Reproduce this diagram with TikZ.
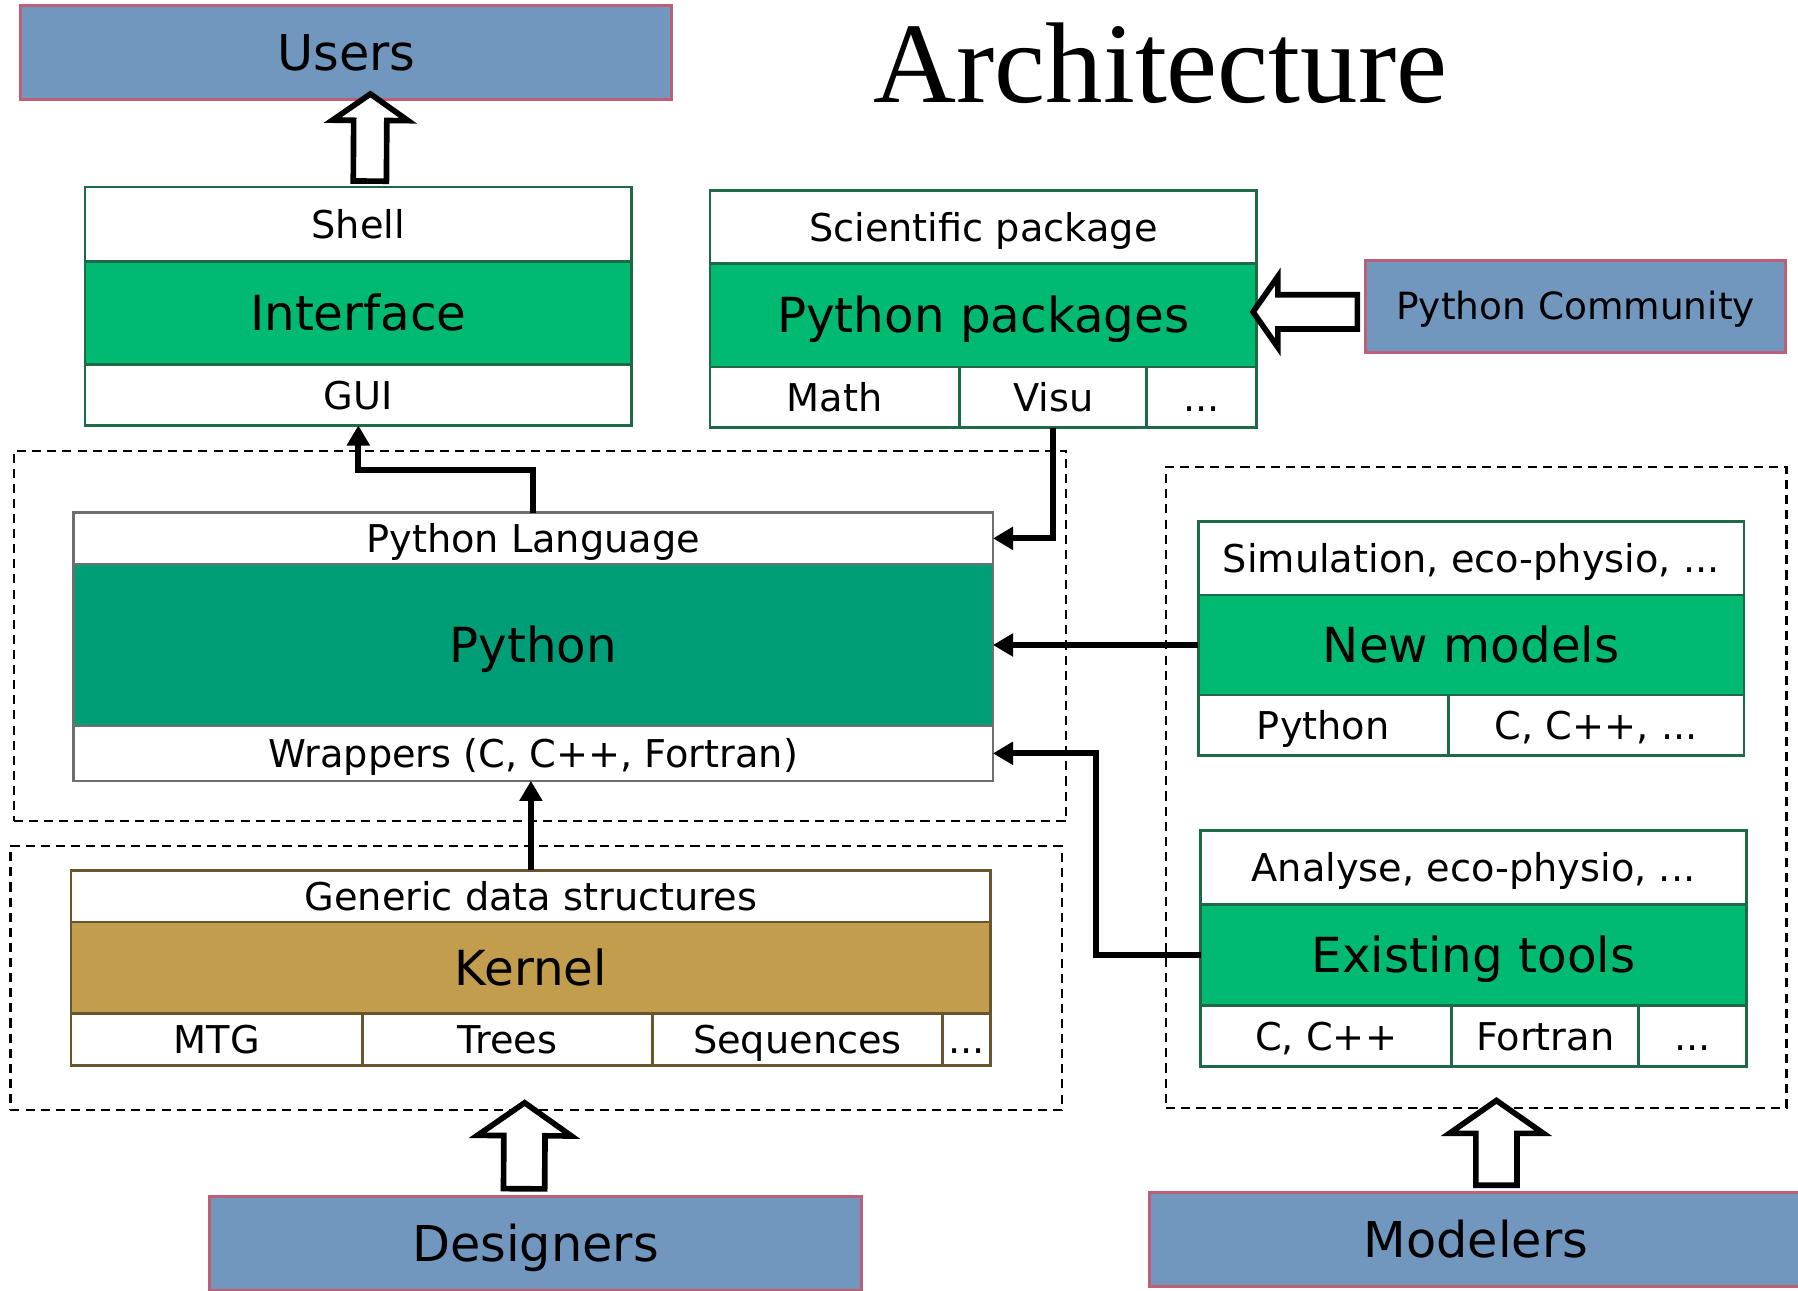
\documentclass[tikz,border=0pt]{standalone}
\usepackage{fontspec}
\setmainfont{DejaVu Sans}
\newfontfamily\titlefont{Liberation Serif}
\usetikzlibrary{positioning,calc,shapes.arrows,arrows.meta}

\definecolor{actorblue}{RGB}{113,151,190}
\definecolor{actorrim}{RGB}{190,95,120}
\definecolor{modgreen}{RGB}{0,186,114}
\definecolor{pygreen}{RGB}{0,158,118}
\definecolor{kernelgold}{RGB}{195,157,78}
\definecolor{greenrim}{RGB}{30,105,70}
\definecolor{grayrim}{RGB}{110,110,110}
\definecolor{brownrim}{RGB}{105,85,45}

\newcommand\bigtxt{\fontsize{24}{28}\selectfont}
\newcommand\midtxt{\fontsize{19}{23}\selectfont}

\tikzset{
  actor/.style={draw=actorrim, fill=actorblue, line width=1.5pt, inner sep=0pt, outer sep=0pt,
    minimum width=11.36cm, minimum height=1.64cm, font=\fontsize{24.5}{28}\selectfont,
    text height=17.9pt, text depth=0pt},
  cap/.style={draw=#1, fill=white, line width=1.3pt, inner sep=0pt, outer sep=0pt, font=\midtxt,
    text height=13.9pt, text depth=0pt},
  core/.style={draw=#1, line width=1.3pt, inner sep=0pt, outer sep=0pt, font=\bigtxt,
    text height=17.5pt, text depth=0pt},
  group/.style={draw, line width=1.1pt, dash pattern=on 4.5pt off 3pt, inner sep=0pt, outer sep=0pt},
  link/.style={line width=3pt, -{Triangle[length=10pt,width=11pt]}},
  fatarrow/.style n args={3}{single arrow, draw=black, fill=white, line width=2.8pt,
    inner xsep=0pt, inner ysep=#1, single arrow head extend=#2, minimum height=#3,
    minimum width=0pt, text height=0pt, text depth=0pt, single arrow tip angle=110,
    sloped, allow upside down}
}

\begin{document}
\begin{tikzpicture}[x=0.02cm,y=-0.02cm]
\useasboundingbox (0,0) rectangle (1568,1125);

\node[font=\titlefont\fontsize{57}{60}\selectfont] (title) at (1012,55) {Architecture};

\node[actor] (users) at (302,46) {Users};

\node[cap=greenrim, minimum width=9.54cm, minimum height=1.3cm] (shell) at (312.5,195.5) {Shell};
\node[core=greenrim, fill=modgreen, minimum width=9.54cm, minimum height=1.8cm, below=0pt of shell] (iface) {Interface};
\node[cap=greenrim, minimum width=9.54cm, minimum height=1.06cm, below=0pt of iface] (gui) {GUI};

\node[cap=greenrim, minimum width=9.54cm, minimum height=1.28cm] (sci) at (857.5,198) {Scientific package};
\node[core=greenrim, fill=modgreen, minimum width=9.54cm, minimum height=1.8cm, below=0pt of sci] (pkgs) {Python packages};
\node[cap=greenrim, minimum width=4.36cm, minimum height=1.06cm, anchor=north west] (math) at (pkgs.south west) {Math};
\node[cap=greenrim, minimum width=3.26cm, minimum height=1.06cm, right=0pt of math] (visu) {Visu};
\node[cap=greenrim, minimum width=1.92cm, minimum height=1.06cm, right=0pt of visu] (pkgdots) {...};

\node[actor, minimum width=7.32cm, minimum height=1.6cm, font=\fontsize{18.6}{22}\selectfont, text height=13.6pt] (community) at (1374,267) {Python Community};

\node[group, minimum width=18.36cm, minimum height=6.46cm] (grpy) at (471,554.5) {};
\node[cap=grayrim, minimum width=16.04cm, minimum height=0.9cm] (lang) at (465,469.5) {Python Language};
\node[core=grayrim, fill=pygreen, minimum width=16.04cm, minimum height=2.82cm, below=0pt of lang] (python) {Python};
\node[cap=grayrim, minimum width=16.04cm, minimum height=0.96cm, below=0pt of python] (wrap) {Wrappers (C, C++, Fortran)};

\node[group, minimum width=10.82cm, minimum height=11.18cm] (grmod) at (1287.5,686.5) {};
\node[cap=greenrim, minimum width=9.52cm, minimum height=1.28cm] (simu) at (1283,487) {Simulation, eco-physio, ...};
\node[core=greenrim, fill=modgreen, minimum width=9.52cm, minimum height=1.74cm, below=0pt of simu] (newmod) {New models};
\node[cap=greenrim, minimum width=4.36cm, minimum height=1.06cm, anchor=north west] (mpy) at (newmod.south west) {Python};
\node[cap=greenrim, minimum width=5.16cm, minimum height=1.06cm, right=0pt of mpy] (mc) {C, C++, ...};

\node[cap=greenrim, minimum width=9.52cm, minimum height=1.3cm] (analyse) at (1285,756.5) {Analyse, eco-physio, ...};
\node[core=greenrim, fill=modgreen, minimum width=9.52cm, minimum height=1.76cm, below=0pt of analyse] (exist) {Existing tools};
\node[cap=greenrim, minimum width=4.38cm, minimum height=1.06cm, anchor=north west] (tc) at (exist.south west) {C, C++};
\node[cap=greenrim, minimum width=3.26cm, minimum height=1.06cm, right=0pt of tc] (tfort) {Fortran};
\node[cap=greenrim, minimum width=1.88cm, minimum height=1.06cm, right=0pt of tfort] (tdots) {...};

\node[group, minimum width=18.34cm, minimum height=4.6cm] (grker) at (467.5,853) {};
\node[cap=brownrim, minimum width=16.04cm, minimum height=0.9cm] (generic) at (463,781.5) {Generic data structures};
\node[core=brownrim, fill=kernelgold, minimum width=16.04cm, minimum height=1.6cm, below=0pt of generic] (kernel) {Kernel};
\node[cap=brownrim, minimum width=5.08cm, minimum height=0.9cm, anchor=north west] (mtg) at (kernel.south west) {MTG};
\node[cap=brownrim, minimum width=5.06cm, minimum height=0.9cm, right=0pt of mtg] (trees) {Trees};
\node[cap=brownrim, minimum width=5.06cm, minimum height=0.9cm, right=0pt of trees] (seq) {Sequences};
\node[cap=brownrim, minimum width=0.84cm, minimum height=0.9cm, right=0pt of seq] (kdots) {...};

\node[actor] (designers) at (467,1084) {Designers};
\node[actor, minimum width=11.4cm] (modelers) at (1287,1081) {Modelers};

\draw[link] (lang.north) -- ++(0,-37) -| (gui.south);
\draw[link] (visu.south) |- (lang.east);
\draw[link] (newmod.west) -- (newmod.west -| python.east);
\draw[link] (exist.west) -- ++(-91,0) |- (wrap.east);
\draw[link] (generic.north) -- (generic.north |- wrap.south);

\path ($(shell.north)+(10,0)$) -- ($(users.south)+(21,0)$) node[midway, fatarrow={0.24cm}{0.37cm}{1.52cm}] {};
\path ($(community.west)+(0,5)$) -- ($(community.west -| pkgs.east)+(0,5)$) node[midway, fatarrow={0.25cm}{0.32cm}{1.82cm}] {};
\path ($(designers.north)+(-10,0)$) -- ($(grker.south)+(-10,0)$) node[midway, fatarrow={0.31cm}{0.46cm}{1.5cm}] {};
\path ($(modelers.north)+(18,0)$) -- ($(grmod.south)+(17.5,0)$) node[midway, fatarrow={0.31cm}{0.46cm}{1.48cm}] {};
\end{tikzpicture}
\end{document}
